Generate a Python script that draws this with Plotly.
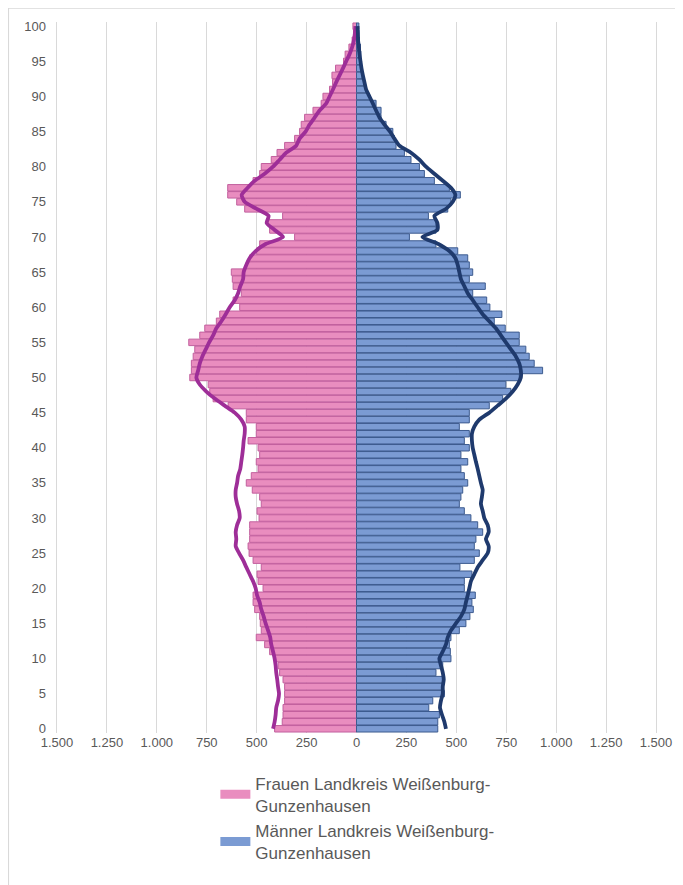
import plotly.graph_objects as go

# ages 0..100
ages = list(range(101))

# Frauen Landkreis (bars, left side)
women = [410, 372, 368, 368, 360, 360, 360, 368, 385, 393,
         410, 435, 460, 502, 477, 482, 485, 510, 518, 518,
         468, 493, 498, 477, 518, 538, 543, 535, 535, 535,
         488, 498, 477, 485, 522, 552, 527, 493, 502, 485,
         493, 543, 502, 502, 552, 552, 643, 718, 735, 743,
         835, 827, 827, 818, 810, 840, 785, 760, 702, 685,
         585, 618, 577, 618, 622, 627, 552, 535, 500, 485,
         310, 435, 443, 370, 560, 600, 645, 645, 518, 485,
         477, 427, 398, 360, 310, 285, 277, 260, 218, 177,
         168, 135, 120, 123, 105, 65, 57, 38, 22, 15,
         18]

# Maenner Landkreis (bars, right side)
men = [407, 407, 415, 362, 382, 440, 432, 432, 398, 432,
       473, 470, 465, 473, 515, 548, 568, 585, 578, 595,
       540, 540, 578, 518, 590, 615, 590, 598, 632, 607,
       573, 540, 515, 523, 532, 557, 540, 523, 557, 523,
       565, 540, 565, 515, 565, 565, 665, 732, 773, 748,
       815, 932, 890, 865, 848, 815, 815, 745, 690, 728,
       668, 652, 582, 645, 565, 582, 565, 557, 507, 398,
       265, 398, 398, 360, 457, 473, 520, 465, 390, 340,
       315, 273, 240, 198, 190, 182, 148, 123, 123, 98,
       65, 48, 35, 28, 23, 25, 22, 20, 15, 12,
       12]

# comparison profile, women (line)
women_line = [418, 410, 405, 402, 393, 388, 393, 397, 402, 405,
              410, 418, 427, 432, 443, 455, 465, 477, 485, 498,
              505, 518, 535, 552, 568, 588, 605, 602, 605, 598,
              585, 588, 598, 605, 605, 598, 593, 582, 577, 572,
              568, 565, 560, 560, 577, 610, 660, 710, 752, 785,
              802, 793, 785, 772, 755, 738, 718, 702, 677, 655,
              635, 610, 593, 582, 568, 565, 552, 535, 505, 455,
              368, 410, 450, 440, 500, 560, 575, 545, 510, 460,
              418, 385, 352, 302, 285, 255, 235, 210, 185, 152,
              135, 118, 102, 85, 68, 52, 35, 22, 13, 8,
              5]

# comparison profile, men (line)
men_line = [448, 440, 428, 418, 423, 432, 432, 437, 432, 423,
            415, 432, 448, 457, 473, 498, 523, 540, 548, 557,
            565, 573, 590, 607, 632, 657, 662, 648, 662, 657,
            640, 632, 623, 628, 632, 623, 615, 607, 598, 590,
            582, 578, 578, 590, 615, 665, 707, 748, 782, 807,
            823, 823, 815, 798, 773, 748, 723, 698, 665, 632,
            607, 582, 557, 540, 523, 515, 507, 495, 465, 410,
            330, 405, 405, 390, 448, 482, 495, 473, 432, 390,
            348, 315, 273, 215, 190, 168, 140, 115, 98, 82,
            65, 48, 40, 32, 25, 20, 15, 12, 8, 7,
            5]

tick_vals = list(range(-1500, 1501, 250))
tick_text = [f"{abs(v):,}".replace(",", ".") for v in tick_vals]

pink, pink_edge = "#E98DBF", "#C2609E"
blue, blue_edge = "#7B9BD3", "#3D5B8F"
name_w = "Frauen Landkreis Weißenburg-<br>Gunzenhausen"
name_m = "Männer Landkreis Weißenburg-<br>Gunzenhausen"

fig = go.Figure()

fig.add_trace(go.Bar(
    y=ages, x=[-v for v in women], orientation="h", name=name_w,
    marker=dict(color=pink, line=dict(color=pink_edge, width=1)),
    showlegend=False,
    customdata=women, hovertemplate="Alter %{y}: %{customdata}<extra>Frauen</extra>"))

fig.add_trace(go.Bar(
    y=ages, x=men, orientation="h", name=name_m,
    marker=dict(color=blue, line=dict(color=blue_edge, width=1)),
    showlegend=False,
    hovertemplate="Alter %{y}: %{x}<extra>Männer</extra>"))

fig.add_trace(go.Scatter(
    y=ages, x=[-v for v in women_line], mode="lines",
    line=dict(color="#9E2E98", width=3.8, shape="spline", smoothing=0.6),
    showlegend=False, hoverinfo="skip"))

fig.add_trace(go.Scatter(
    y=ages, x=men_line, mode="lines",
    line=dict(color="#1F3A6D", width=3.8, shape="spline", smoothing=0.6),
    showlegend=False, hoverinfo="skip"))

# legend entries drawn as wide swatches like the original
fig.add_trace(go.Scatter(x=[None], y=[None], mode="lines", name=name_w,
                         line=dict(color=pink, width=9)))
fig.add_trace(go.Scatter(x=[None], y=[None], mode="lines", name=name_m,
                         line=dict(color=blue, width=9)))

fnt = "Liberation Sans Narrow, Liberation Sans, Arial, sans-serif"

# page body has an 8px margin, so the figure is offset by 8px
fig.update_layout(
    width=675, height=877,
    margin=dict(l=39, r=11, t=14, b=152),
    paper_bgcolor="white", plot_bgcolor="white",
    barmode="overlay", bargap=0.08,
    font=dict(family=fnt, size=13, color="#595959"),
    legend=dict(x=0.272, y=-0.046, xanchor="left", yanchor="top",
                font=dict(family="Liberation Sans, Arial, sans-serif", size=17, color="#595959"),
                tracegroupgap=2),
    shapes=[dict(type="rect", xref="paper", yref="paper",
                 x0=-0.0625, x1=1.2, y0=-0.4, y1=1.0197,
                 line=dict(color="#D9D9D9", width=1.5), layer="below")],
)

fig.update_xaxes(range=[-1550, 1550], tickvals=tick_vals, ticktext=tick_text,
                 showgrid=True, gridcolor="#D9D9D9", gridwidth=1,
                 zeroline=False, showline=False, ticks="", fixedrange=True)
fig.update_yaxes(range=[-0.6, 100.6], tickvals=list(range(0, 101, 5)),
                 showgrid=False, zeroline=False, showline=False, ticks="",
                 fixedrange=True)

fig.write_html("out.html")
